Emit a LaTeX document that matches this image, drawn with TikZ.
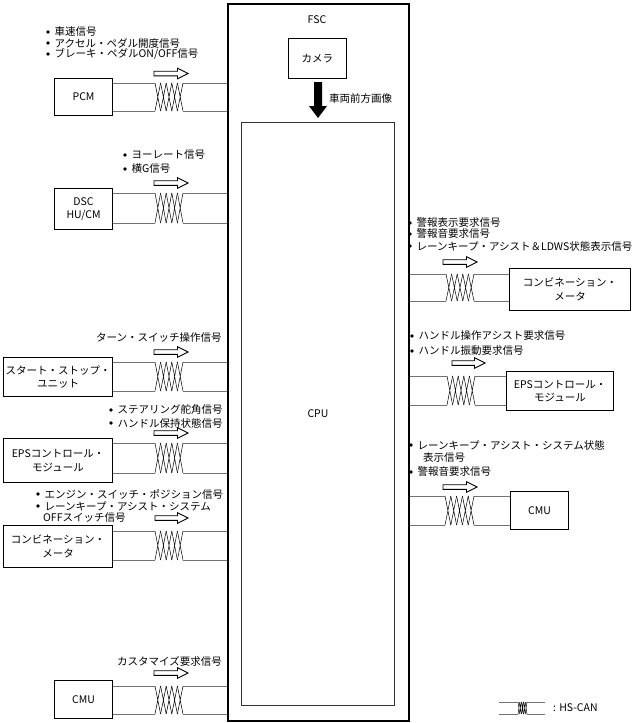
\documentclass[tikz,border=0pt]{standalone}
\usepackage{fontspec}
\setmainfont{Noto Sans CJK JP}
\tikzset{
  box/.style={draw, line width=1.1pt, inner sep=0pt, align=center, anchor=north west},
  wire/.style={draw=black!55, line width=0.8pt},
  twl/.style={draw=black, line width=0.5pt},
  lbl/.style={anchor=west, inner sep=0pt},
  harr/.style={draw=black, fill=white, line width=0.9pt},
}
% twisted pair: #1 left anchor, #2 right anchor, #3 y top, #4 y bottom, #5 twist start x, #6 twist end x
\newcommand\twp[6]{%
  \draw[wire] (#1 |- 0,#3) -- (#5,#3) (#6,#3) -- (#2 |- 0,#3)
              (#1 |- 0,#4) -- (#5,#4) (#6,#4) -- (#2 |- 0,#4);
  \pgfmathsetmacro\twd{(#6-#5)/5}
  \foreach \i in {0,...,4}{%
    \draw[twl] ({#5+\i*\twd},#3) -- ({#5+(\i+1)*\twd},#4)
               ({#5+\i*\twd},#4) -- ({#5+(\i+1)*\twd},#3);}%
}
% hollow arrow: #1 x start, #2 x tip, #3 y
\newcommand\harrow[3]{%
  \draw[harr] (#1,{#3-2.3}) -- ({#2-10.5},{#3-2.3}) -- ({#2-10.5},{#3-5.3}) -- (#2,#3)
     -- ({#2-10.5},{#3+5.3}) -- ({#2-10.5},{#3+2.3}) -- (#1,{#3+2.3}) -- cycle;}
% bulleted line: #1 bullet x, #2 y, #3 text
\newcommand\bl[3]{\fill (#1,#2) circle (1.8); \node[lbl] at ({#1+6.5},#2) {#3};}
\begin{document}
\begin{tikzpicture}[x=1pt,y=-1pt,font=\fontsize{10.5}{13.5}\selectfont]
\useasboundingbox (0,0) rectangle (641,723);

% FSC
\node[box, line width=1.5pt, minimum width=181pt, minimum height=717pt] (fsc) at (227,3) {};
\node[inner sep=0pt] (fsclbl) at (317,20) {FSC};
\node[box, line width=0.9pt, minimum width=58pt, minimum height=40pt] (cam) at (288,38) {カメラ};
\node[box, draw=black!80, line width=1pt, minimum width=153pt, minimum height=583pt] (cpu) at (241,122) {CPU};
\fill (314,82) -- (322,82) -- (322,106) -- (327,106) -- (318,118) -- (309,106) -- (314,106) -- cycle;
\node[lbl] (img) at (329,99) {車両前方画像};

% left boxes
\node[box, minimum width=58pt, minimum height=37pt] (pcm) at (54,78) {PCM};
\node[box, minimum width=58pt, minimum height=41pt] (dsc) at (54,188) {DSC\\HU/CM};
\node[box, minimum width=109pt, minimum height=39pt] (ssu) at (3,357) {スタート・ストップ・\\ユニット};
\node[box, minimum width=109pt, minimum height=44pt] (epsl) at (3,438) {EPSコントロール・\\モジュール};
\node[box, minimum width=109pt, minimum height=42pt] (cmbl) at (3,525) {コンビネーション・\\メータ};
\node[box, minimum width=58pt, minimum height=38pt] (cmul) at (54,680) {CMU};

% right boxes
\node[box, minimum width=121pt, minimum height=42pt] (cmbr) at (509,268) {コンビネーション・\\メータ};
\node[box, minimum width=107pt, minimum height=39pt] (epsr) at (506,371) {EPSコントロール・\\モジュール};
\node[box, minimum width=58pt, minimum height=38pt] (cmur) at (510,491) {CMU};

% left links
\twp{pcm.east}{fsc.west}{83}{111}{155}{183}
\twp{dsc.east}{fsc.west}{193}{223}{155}{183}
\twp{ssu.east}{fsc.west}{362}{391}{155}{183}
\twp{epsl.east}{fsc.west}{443}{473}{155}{183}
\twp{cmbl.east}{fsc.west}{531}{560}{155}{183}
\twp{cmul.east}{fsc.west}{686}{714}{155}{183}
% right links
\twp{fsc.east}{cmbr.west}{274}{301}{446}{474}
\twp{fsc.east}{epsr.west}{376}{405}{447}{475}
\twp{fsc.east}{cmur.west}{496}{525}{445}{474}

% arrows
\harrow{154}{188}{73.5}
\harrow{154}{188}{183}
\harrow{154}{188}{352}
\harrow{154}{188}{433}
\harrow{155}{188}{518}
\harrow{154}{188}{673}
\harrow{443}{477}{262}
\harrow{452}{485}{363}
\harrow{443}{477}{487}

% left labels
\bl{48}{32}{車速信号}
\bl{48}{43}{アクセル・ペダル開度信号}
\bl{48}{54}{ブレーキ・ペダルON/OFF信号}
\bl{125}{155}{ヨーレート信号}
\bl{125}{169}{横G信号}
\node[lbl] (turn) at (96,338) {ターン・スイッチ操作信号};
\bl{111}{410}{ステアリング舵角信号}
\bl{111}{423}{ハンドル保持状態信号}
\bl{38}{494}{エンジン・スイッチ・ポジション信号}
\bl{38}{506}{レーンキープ・アシスト・システム}
\node[lbl] (offsw) at (43,518) {OFFスイッチ信号};
\node[lbl] (cust) at (117,661) {カスタマイズ要求信号};

% right labels
\bl{410}{223}{警報表示要求信号}
\bl{410}{234}{警報音要求信号}
\bl{410}{246}{レーンキープ・アシスト＆LDWS状態表示信号}
\bl{412}{336}{ハンドル操作アシスト要求信号}
\bl{412}{351}{ハンドル振動要求信号}
\bl{411}{445}{レーンキープ・アシスト・システム状態}
\node[lbl] (disp) at (423,458) {表示信号};
\bl{411}{472}{警報音要求信号}

% legend
\coordinate (lga) at (499,702);
\coordinate (lgb) at (545,702);
\twp{lga}{lgb}{702}{714}{518}{527}
\node[lbl] (leg) at (553,708) {: HS-CAN};
\end{tikzpicture}
\end{document}
